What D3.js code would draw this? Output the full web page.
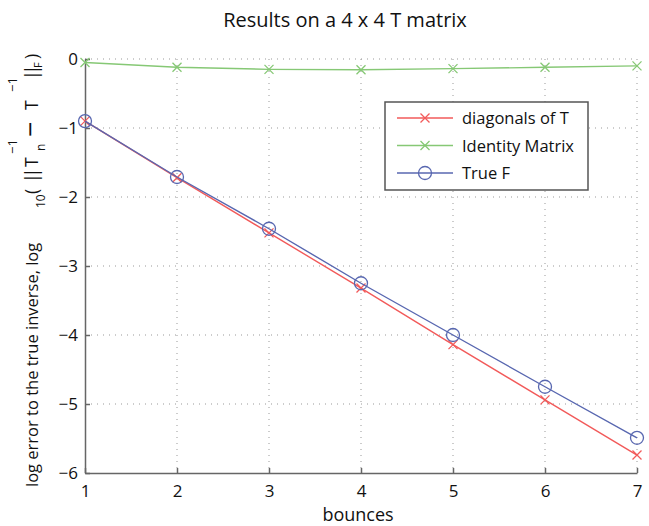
<!DOCTYPE html>
<html>
<head>
<meta charset="utf-8">
<script src="https://cdn.jsdelivr.net/npm/d3@7"></script>
<style>
  body { margin: 0; background: #fff; }
  text { font-family: 'Open Sans', sans-serif; fill: #111; }
</style>
</head>
<body>
<svg id="chart" width="649" height="526"></svg>
<script>
const bounces = [1, 2, 3, 4, 5, 6, 7];
const diagonalsT = [-0.9, -1.72, -2.52, -3.32, -4.14, -4.94, -5.74];
const identityM = [-0.05, -0.12, -0.15, -0.155, -0.14, -0.12, -0.10];
const trueF = [-0.9, -1.71, -2.46, -3.25, -4.0, -4.75, -5.49];
const xTicks = [1, 2, 3, 4, 5, 6, 7];
const yTicks = [0, -1, -2, -3, -4, -5, -6];

const series = [
  { name: 'diagonals of T', values: diagonalsT, color: '#f25a5a', marker: 'x' },
  { name: 'Identity Matrix', values: identityM, color: '#86c875', marker: 'x' },
  { name: 'True F', values: trueF, color: '#5867b0', marker: 'o' },
];

const svg = d3.select('#chart');
const x = d3.scaleLinear().domain([1, 7]).range([85, 637]);
const y = d3.scaleLinear().domain([-6, 0]).range([473, 59]);

// dotted grid
svg.append('g')
  .selectAll('line')
  .data(xTicks.slice(1))
  .join('line')
  .attr('x1', (d) => x(d)).attr('x2', (d) => x(d))
  .attr('y1', y(0)).attr('y2', y(-6))
  .attr('stroke', '#999').attr('stroke-width', 1)
  .attr('stroke-dasharray', '1,5');
svg.append('g')
  .selectAll('line')
  .data(yTicks.slice(0, -1))
  .join('line')
  .attr('x1', x(1)).attr('x2', x(7))
  .attr('y1', (d) => y(d)).attr('y2', (d) => y(d))
  .attr('stroke', '#999').attr('stroke-width', 1)
  .attr('stroke-dasharray', '1,5');

// axes
const xAxis = d3.axisBottom(x).tickValues(xTicks).tickFormat(d3.format('d'))
  .tickSizeInner(-5).tickSizeOuter(0).tickPadding(12);
const yAxis = d3.axisLeft(y).tickValues(yTicks).tickFormat(d3.format('d'))
  .tickSizeInner(-5).tickSizeOuter(0).tickPadding(7);

const styleTicks = (g) => g.selectAll('.tick text')
  .attr('font-size', 17).attr('font-family', 'Open Sans').attr('fill', '#111');

svg.append('g')
  .attr('transform', `translate(0, ${y(-6)})`)
  .call(xAxis)
  .call(styleTicks);
svg.append('g')
  .attr('transform', `translate(${x(1)}, 0)`)
  .call(yAxis)
  .call(styleTicks);
svg.selectAll('.domain, .tick line').attr('stroke', '#666').attr('stroke-width', 1.5);

// lines and markers
const line = d3.line()
  .x((d, i) => x(bounces[i]))
  .y((d) => y(d));

const drawMarker = (g, kind, cx, cy, color) => {
  if (kind === 'o') {
    g.append('circle').attr('cx', cx).attr('cy', cy).attr('r', 6.5)
      .attr('fill', 'none').attr('stroke', color).attr('stroke-width', 1.3);
  } else {
    const s = 4.5;
    g.append('path')
      .attr('d', `M${cx - s},${cy - s}L${cx + s},${cy + s}M${cx - s},${cy + s}L${cx + s},${cy - s}`)
      .attr('stroke', color).attr('stroke-width', 1.3);
  }
};

series.forEach((s) => {
  const g = svg.append('g');
  g.append('path')
    .datum(s.values)
    .attr('fill', 'none')
    .attr('stroke', s.color)
    .attr('stroke-width', 1.4)
    .attr('d', line);
  s.values.forEach((v, i) => drawMarker(g, s.marker, x(bounces[i]), y(v), s.color));
});

// legend
const lg = svg.append('g').attr('transform', 'translate(385, 102)');
lg.append('rect').attr('width', 203).attr('height', 88)
  .attr('fill', '#fff').attr('stroke', '#555').attr('stroke-width', 1.5);
series.forEach((s, i) => {
  const ly = 16 + i * 27.5;
  lg.append('line').attr('x1', 12).attr('x2', 68).attr('y1', ly).attr('y2', ly)
    .attr('stroke', s.color).attr('stroke-width', 1.4);
  drawMarker(lg, s.marker, 40, ly, s.color);
  lg.append('text').attr('x', 77).attr('y', ly + 6)
    .attr('font-size', 16.5).text(s.name);
});

// title and axis labels
svg.append('text')
  .attr('x', 345).attr('y', 27)
  .attr('text-anchor', 'middle').attr('font-size', 20)
  .text('Results on a 4 x 4 T matrix');

svg.append('text')
  .attr('x', 358).attr('y', 521)
  .attr('text-anchor', 'middle').attr('font-size', 18)
  .text('bounces');

// rotated y label: local x runs up the page, local y runs to the right
const yl = svg.append('text')
  .attr('transform', 'rotate(-90)')
  .attr('font-size', 16.5);
const part = (txt, up, right, size, ls = 0) => yl.append('tspan')
  .attr('x', -up).attr('y', right).attr('font-size', size)
  .attr('letter-spacing', ls).text(txt);
part('log error to the true inverse, log', 487, 38, 16.5);
part('10', 208, 45, 12);
part('(', 194, 38, 17.5);
part('||', 183, 38, 17.5, -4);
part('T', 167, 38, 17.5);
part('n', 151, 45, 12);
part('−1', 154, 17, 13);
part('−', 137, 40, 27);
part('T', 110, 38, 17.5);
part('−1', 92, 17, 13);
part('||', 80, 38, 17.5, -4);
part('F', 68, 42, 11);
part(')', 59, 38, 17.5);
</script>
</body>
</html>
